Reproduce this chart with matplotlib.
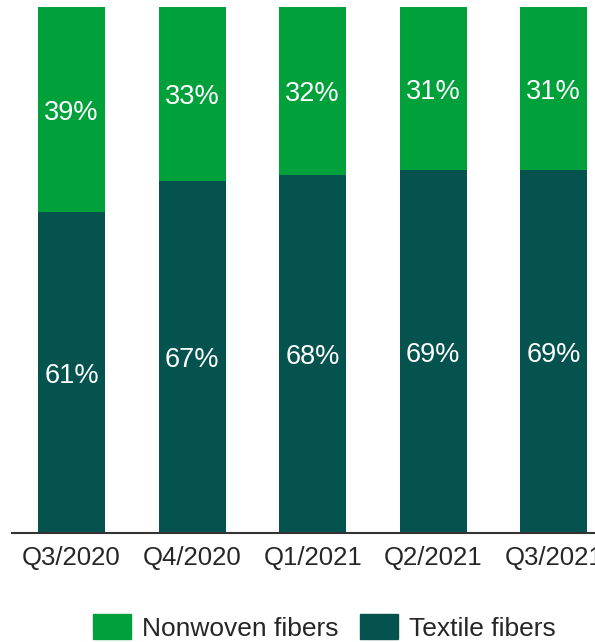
import numpy as np
import matplotlib.pyplot as plt
from matplotlib.patches import Patch

plt.rcParams['font.family'] = ['Liberation Sans', 'DejaVu Sans']

# Data
quarters = ['Q3/2020', 'Q4/2020', 'Q1/2021', 'Q2/2021', 'Q3/2021']
textile = [61, 67, 68, 69, 69]    # bottom segment, %
nonwoven = [39, 33, 32, 31, 31]   # top segment, %

green = '#00A13A'
teal = '#04534F'
text_col = '#262626'

fig = plt.figure(figsize=(5.95, 6.42), dpi=100)
# axes reaches a bit past the right edge so the last label gets clipped like the original
ax = fig.add_axes([12/595, 109/642, 602/595, 526/642])

x = np.arange(len(quarters))
w = 0.556
ax.bar(x, textile, w, color=teal)
ax.bar(x, nonwoven, w, bottom=textile, color=green)

for i in range(len(quarters)):
    ax.text(x[i], textile[i]/2, '{}%'.format(textile[i]), ha='center', va='center_baseline',
            color='white', fontsize=19.5)
    ax.text(x[i], textile[i] + nonwoven[i]/2, '{}%'.format(nonwoven[i]), ha='center',
            va='center_baseline', color='white', fontsize=19.5)

ax.set_xlim(-0.494, 4.5)
ax.set_ylim(0, 100)
ax.set_xticks(x)
ax.set_xticklabels(quarters, fontsize=18.5, color=text_col)
ax.tick_params(axis='x', length=0, pad=9)
ax.set_yticks([])
for s in ['top', 'right', 'left']:
    ax.spines[s].set_visible(False)
ax.spines['bottom'].set_color('#333333')
ax.spines['bottom'].set_linewidth(1.5)

handles = [Patch(color=green, label='Nonwoven fibers'), Patch(color=teal, label='Textile fibers')]
fig.legend(handles=handles, loc='center', bbox_to_anchor=(0.545, 0.023), ncol=2, frameon=False,
           fontsize=19, handlelength=1.44, handleheight=1.1, handletextpad=0.42,
           columnspacing=0.83, labelcolor=text_col, borderpad=0)

plt.savefig('out.png', dpi=100)
